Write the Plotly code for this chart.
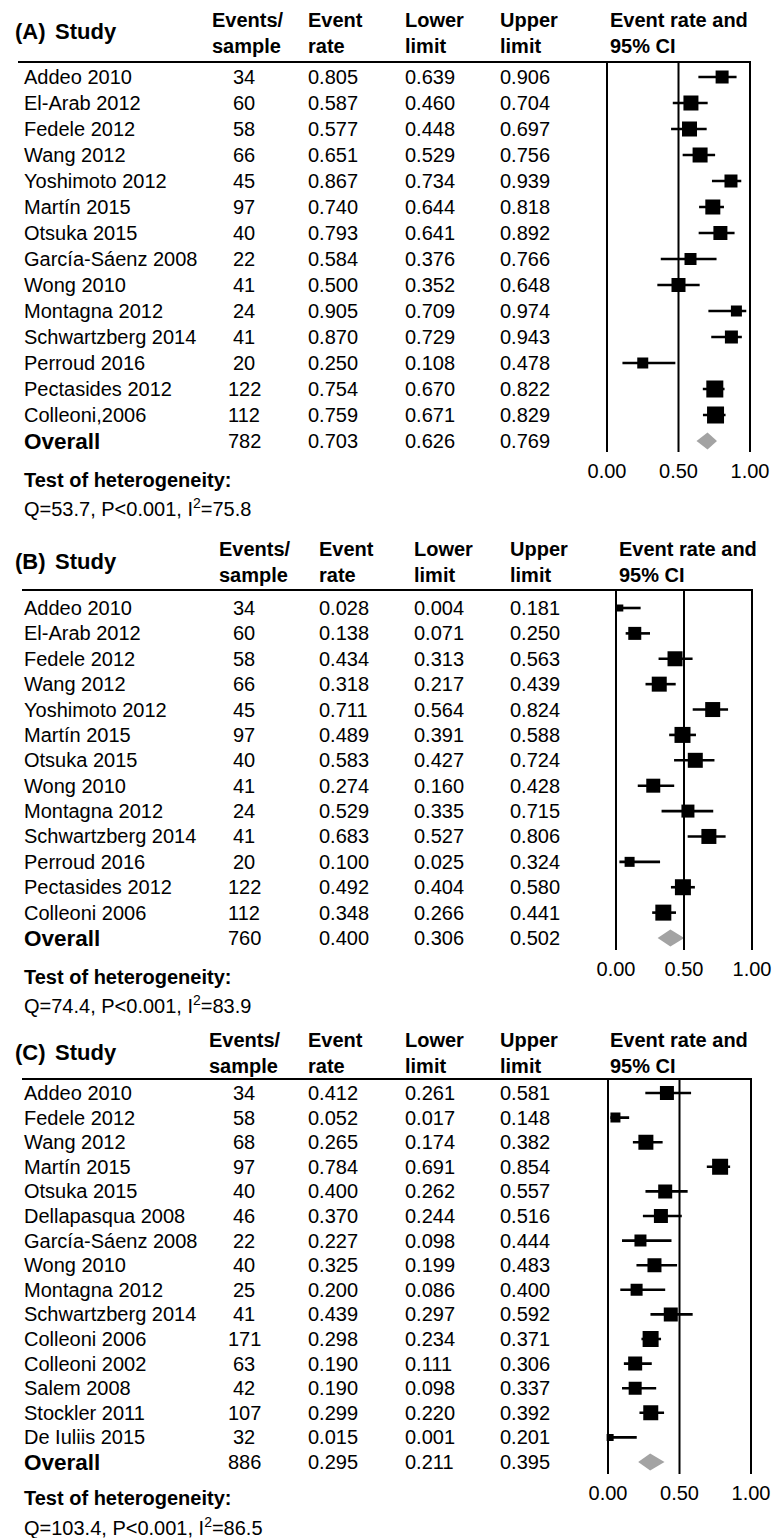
import plotly.graph_objects as go

W, H = 773, 1538

# ---------------- data ----------------
studies_A = ["Addeo 2010", "El-Arab 2012", "Fedele 2012", "Wang 2012", "Yoshimoto 2012",
             "Martín 2015", "Otsuka 2015", "García-Sáenz 2008", "Wong 2010", "Montagna 2012",
             "Schwartzberg 2014", "Perroud 2016", "Pectasides 2012", "Colleoni,2006"]
n_A = [34, 60, 58, 66, 45, 97, 40, 22, 41, 24, 41, 20, 122, 112]
rate_A = [0.805, 0.587, 0.577, 0.651, 0.867, 0.740, 0.793, 0.584, 0.500, 0.905, 0.870, 0.250, 0.754, 0.759]
lo_A = [0.639, 0.460, 0.448, 0.529, 0.734, 0.644, 0.641, 0.376, 0.352, 0.709, 0.729, 0.108, 0.670, 0.671]
hi_A = [0.906, 0.704, 0.697, 0.756, 0.939, 0.818, 0.892, 0.766, 0.648, 0.974, 0.943, 0.478, 0.822, 0.829]
weight_A = [13, 15, 15, 15, 13, 15, 14, 12, 14, 11, 13, 11, 17, 17]
overall_A = [782, 0.703, 0.626, 0.769]
het_A = "Q=53.7, P<0.001, I<sup>2</sup>=75.8"

studies_B = ["Addeo 2010", "El-Arab 2012", "Fedele 2012", "Wang 2012", "Yoshimoto 2012",
             "Martín 2015", "Otsuka 2015", "Wong 2010", "Montagna 2012", "Schwartzberg 2014",
             "Perroud 2016", "Pectasides 2012", "Colleoni 2006"]
n_B = [34, 60, 58, 66, 45, 97, 40, 41, 24, 41, 20, 122, 112]
rate_B = [0.028, 0.138, 0.434, 0.318, 0.711, 0.489, 0.583, 0.274, 0.529, 0.683, 0.100, 0.492, 0.348]
lo_B = [0.004, 0.071, 0.313, 0.217, 0.564, 0.391, 0.427, 0.160, 0.335, 0.527, 0.025, 0.404, 0.266]
hi_B = [0.181, 0.250, 0.563, 0.439, 0.824, 0.588, 0.724, 0.428, 0.715, 0.806, 0.324, 0.580, 0.441]
weight_B = [7, 13, 15, 15, 15, 16, 15, 14, 13, 15, 10, 16, 16]
overall_B = [760, 0.400, 0.306, 0.502]
het_B = "Q=74.4, P<0.001, I<sup>2</sup>=83.9"

studies_C = ["Addeo 2010", "Fedele 2012", "Wang 2012", "Martín 2015", "Otsuka 2015",
             "Dellapasqua 2008", "García-Sáenz 2008", "Wong 2010", "Montagna 2012",
             "Schwartzberg 2014", "Colleoni 2006", "Colleoni 2002", "Salem 2008",
             "Stockler 2011", "De Iuliis 2015"]
n_C = [34, 58, 68, 97, 40, 46, 22, 40, 25, 41, 171, 63, 42, 107, 32]
rate_C = [0.412, 0.052, 0.265, 0.784, 0.400, 0.370, 0.227, 0.325, 0.200, 0.439, 0.298, 0.190, 0.190, 0.299, 0.015]
lo_C = [0.261, 0.017, 0.174, 0.691, 0.262, 0.244, 0.098, 0.199, 0.086, 0.297, 0.234, 0.111, 0.098, 0.220, 0.001]
hi_C = [0.581, 0.148, 0.382, 0.854, 0.557, 0.516, 0.444, 0.483, 0.400, 0.592, 0.371, 0.306, 0.337, 0.392, 0.201]
weight_C = [14, 10, 15, 16, 14, 14, 12, 14, 12, 14, 16, 14, 13, 15, 7]
overall_C = [886, 0.295, 0.211, 0.395]
het_C = "Q=103.4, P<0.001, I<sup>2</sup>=86.5"

tick_vals = [0, 0.5, 1.0]
tick_text = ["0.00", "0.50", "1.00"]

# ---------------- layout geometry (pixels) ----------------
FONT = "Arial, Liberation Sans, sans-serif"
FS = 20
PAD = 0.03  # range padding so edge reference lines are not clipped


def px_x(p):
    return p / W


def px_y(p):
    return 1 - p / H


panels = [
    dict(tag="(A)", studies=studies_A, n=n_A, rate=rate_A, lo=lo_A, hi=hi_A, w=weight_A,
         overall=overall_A, het=het_A,
         head_y=33, line_y=62, first=77, last=441, bottom=452,
         cols=dict(name=22, n=244, ev=248, rate=306, lo=403, hi=498, ci=608),
         ax0=607, ax1=750, line_x0=18, test_y=480, q_y=507),
    dict(tag="(B)", studies=studies_B, n=n_B, rate=rate_B, lo=lo_B, hi=hi_B, w=weight_B,
         overall=overall_B, het=het_B,
         head_y=562, line_y=590, first=608, last=938, bottom=950,
         cols=dict(name=22, n=244, ev=255, rate=317, lo=412, hi=508, ci=617),
         ax0=616, ax1=752, line_x0=22, test_y=977, q_y=1004),
    dict(tag="(C)", studies=studies_C, n=n_C, rate=rate_C, lo=lo_C, hi=hi_C, w=weight_C,
         overall=overall_C, het=het_C,
         head_y=1053, line_y=1079, first=1093, last=1462, bottom=1474,
         cols=dict(name=22, n=244, ev=245, rate=306, lo=403, hi=498, ci=608),
         ax0=608, ax1=751, line_x0=22, test_y=1498, q_y=1526),
]

fig = go.Figure()
annotations = []
shapes = []
layout_axes = {}

for i, P in enumerate(panels):
    k = "" if i == 0 else str(i + 1)
    xa, ya = "x" + k, "y" + k
    nrow = len(P["studies"])  # overall row index = nrow
    step = (P["last"] - P["first"]) / nrow
    top = -(P["first"] - P["line_y"]) / step
    bot = nrow + (P["bottom"] - P["last"]) / step
    span = P["ax1"] - P["ax0"]

    layout_axes["xaxis" + k] = dict(
        domain=[px_x(P["ax0"] - PAD * span), px_x(P["ax1"] + PAD * span)],
        range=[-PAD, 1 + PAD], anchor=ya, automargin=False,
        showgrid=False, zeroline=False, showline=False,
        tickvals=tick_vals, ticktext=tick_text, ticks="outside", ticklen=1,
        tickcolor="rgba(0,0,0,0)",
        tickfont=dict(family=FONT, size=FS, color="black"),
    )
    layout_axes["yaxis" + k] = dict(
        domain=[px_y(P["bottom"]), px_y(P["line_y"])], range=[bot, top], anchor=xa,
        automargin=False, showgrid=False, zeroline=False, showline=False,
        showticklabels=False, ticks="",
    )

    rows = list(range(nrow))
    # CI whiskers
    cx, cy = [], []
    for r, a, b in zip(rows, P["lo"], P["hi"]):
        cx += [a, b, None]
        cy += [r, r, None]
    fig.add_trace(go.Scatter(x=cx, y=cy, mode="lines", line=dict(color="black", width=2.6),
                             xaxis=xa, yaxis=ya, showlegend=False, hoverinfo="skip"))
    # point estimates (squares sized by weight)
    fig.add_trace(go.Scatter(x=P["rate"], y=rows, mode="markers", opacity=1,
                             marker=dict(symbol="square", size=P["w"], color="#000000",
                                         opacity=1, line=dict(width=0)),
                             xaxis=xa, yaxis=ya, showlegend=False))
    # overall diamond
    N, est, lo, hi = P["overall"]
    hgt = 8.5 / step
    fig.add_trace(go.Scatter(x=[lo, est, hi, est, lo], y=[nrow, nrow - hgt, nrow, nrow + hgt, nrow],
                             mode="lines", fill="toself", fillcolor="#a3a3a3",
                             line=dict(width=0, color="#a3a3a3"),
                             xaxis=xa, yaxis=ya, showlegend=False))
    # vertical reference lines at ticks
    for tv in tick_vals:
        shapes.append(dict(type="line", xref=xa, yref=ya + " domain", x0=tv, x1=tv, y0=0, y1=1,
                           line=dict(color="black", width=2)))
    # header rule
    shapes.append(dict(type="line", xref="paper", yref="paper",
                       x0=px_x(P["line_x0"]), x1=px_x(P["ax1"] + 1),
                       y0=px_y(P["line_y"]), y1=px_y(P["line_y"]),
                       line=dict(color="black", width=2)))

    C = P["cols"]

    def ann(text, x, y, xanchor="left", yref="paper", size=FS, bold=False):
        annotations.append(dict(
            text=("<b>%s</b>" % text) if bold else text, x=x, y=y, xref="paper", yref=yref,
            xanchor=xanchor, yanchor="middle", showarrow=False, align="left",
            font=dict(family=FONT, size=size, color="black")))

    # headers
    ann(P["tag"], px_x(13), px_y(P["head_y"] - 1), size=22, bold=True)
    ann("Study", px_x(53), px_y(P["head_y"] - 1), size=22, bold=True)
    ann("Events/<br>sample", px_x(C["ev"]), px_y(P["head_y"]), xanchor="center", bold=True)
    ann("Event<br>rate", px_x(C["rate"]), px_y(P["head_y"]), bold=True)
    ann("Lower<br>limit", px_x(C["lo"]), px_y(P["head_y"]), bold=True)
    ann("Upper<br>limit", px_x(C["hi"]), px_y(P["head_y"]), bold=True)
    ann("Event rate and<br>95% CI", px_x(C["ci"]), px_y(P["head_y"]), bold=True)

    # study rows
    for r, s in enumerate(P["studies"]):
        ann(s, px_x(C["name"]), r, yref=ya)
        ann(str(P["n"][r]), px_x(C["n"]), r, xanchor="center", yref=ya)
        ann("%.3f" % P["rate"][r], px_x(C["rate"]), r, yref=ya)
        ann("%.3f" % P["lo"][r], px_x(C["lo"]), r, yref=ya)
        ann("%.3f" % P["hi"][r], px_x(C["hi"]), r, yref=ya)
    # overall row
    ann("Overall", px_x(C["name"]), nrow, yref=ya, size=22.5, bold=True)
    ann(str(N), px_x(C["n"]), nrow, xanchor="center", yref=ya)
    ann("%.3f" % est, px_x(C["rate"]), nrow, yref=ya)
    ann("%.3f" % lo, px_x(C["lo"]), nrow, yref=ya)
    ann("%.3f" % hi, px_x(C["hi"]), nrow, yref=ya)

    # heterogeneity
    ann("Test of heterogeneity:", px_x(22), px_y(P["test_y"]), bold=True)
    ann(P["het"], px_x(22), px_y(P["q_y"]))

fig.update_layout(
    width=W, height=H, margin=dict(l=0, r=0, t=0, b=0, pad=0, autoexpand=False),
    paper_bgcolor="white", plot_bgcolor="white",
    annotations=annotations, shapes=shapes,
    font=dict(family=FONT, size=FS, color="black"),
    **layout_axes,
)

fig.write_html("out.html", config={"displayModeBar": False, "staticPlot": True},
               post_script="document.body.style.margin='0';")
